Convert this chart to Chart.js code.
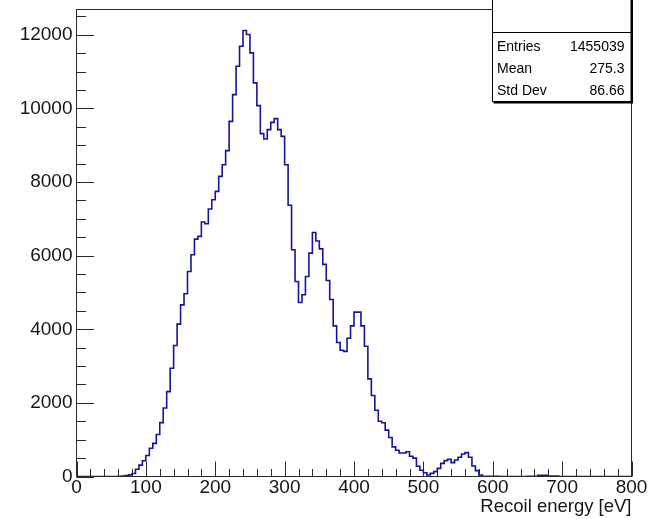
<!DOCTYPE html>
<html>
<head>
<meta charset="utf-8">
<title>Recoil energy</title>
<script src="https://cdn.jsdelivr.net/npm/chart.js@4.4.1/dist/chart.umd.min.js"></script>
<style>
  html, body { margin: 0; padding: 0; background: #fff; }
  canvas { display: block; }
</style>
</head>
<body>
<canvas id="histo" width="649" height="519"></canvas>
<script>
// histogram: 160 bins of 5 eV from 0 to 800 eV
const binWidth = 5;
const xMin = 0;
const xMax = 800;
const counts = [
    0, 0, 0, 0, 0, 0, 0, 0, 0, 0,                               // 0-50
    0, 0, 5, 10, 25, 45, 80, 195, 310, 430,                     // 50-100
    570, 766, 900, 1140, 1465, 1860, 2307, 2942, 3558, 4140,    // 100-150
    4665, 4964, 5571, 6025, 6451, 6524, 6914, 6868, 7267, 7521, // 150-200
    7747, 8155, 8473, 8854, 9651, 10377, 11147, 11691, 12118, 12009, // 200-250
    11510, 10695, 10078, 9316, 9171, 9425, 9624, 9724, 9425, 9243,   // 250-300
    8473, 7370, 6161, 5299, 4728, 4937, 5435, 6071, 6632, 6400, // 300-350
    6185, 5765, 5327, 4810, 4094, 3640, 3430, 3400, 3758, 4094, // 350-400
    4466, 4466, 4094, 3540, 2652, 2200, 1800, 1500, 1460, 1260, // 400-450
    1060, 805, 712, 640, 640, 672, 550, 500, 280, 170,          // 450-500
    100, 41, 86, 132, 222, 358, 431, 467, 376, 449,             // 500-550
    522, 612, 648, 522, 286, 159, 41, 8, 8, 8,                  // 550-600
    8, 8, 0, 0, 0, 0, 0, 0, 0, 0,                               // 600-650
    8, 8, 8, 30, 30, 30, 10, 10, 10, 0,                         // 650-700
    0, 0, 0, 0, 0, 0, 0, 0, 0, 0,                               // 700-750
    0, 0, 0, 0, 0, 0, 0, 0, 0, 0                                // 750-800
];
const xTicks = [0, 100, 200, 300, 400, 500, 600, 700, 800];
const yTicks = [0, 2000, 4000, 6000, 8000, 10000, 12000];
const yMax = 12690;
const statNames = ['Entries', 'Mean', 'Std Dev'];
const statValues = ['1455039', '275.3', '86.66'];
const xTitle = 'Recoil energy [eV]';

// bin edges -> step points
const points = counts.map((c, i) => ({ x: xMin + i * binWidth, y: c }));
points.push({ x: xMax, y: counts[counts.length - 1] });

const FONT = "'Liberation Sans', Arial, sans-serif";

// frame, inner ticks and the stats box, like ROOT draws them
const rootFrame = {
    id: 'rootFrame',
    afterDraw(chart) {
        const { ctx, chartArea: a, scales: { x, y } } = chart;
        ctx.save();
        ctx.strokeStyle = '#2a2a2a';
        ctx.lineWidth = 1;
        ctx.strokeRect(a.left, a.top, a.right - a.left, a.bottom - a.top);

        ctx.beginPath();
        for (let v = xMin; v <= xMax; v += 20) {
            const px = Math.round(x.getPixelForValue(v)) + 0.5;
            const len = v % 100 === 0 ? 15 : 7.5;
            ctx.moveTo(px, a.bottom);
            ctx.lineTo(px, a.bottom - len);
        }
        for (let v = 0; v <= yMax; v += 500) {
            const py = Math.round(y.getPixelForValue(v)) + 0.5;
            const len = v % 2000 === 0 ? 17.5 : 9.5;
            ctx.moveTo(a.left, py);
            ctx.lineTo(a.left + len, py);
        }
        ctx.stroke();

        // stats box
        const bx = 492.5, by = -1, bw = 138.5, bh = 102.5;
        ctx.fillStyle = '#000';
        ctx.fillRect(bx + 1, by + 1, bw + 1, bh + 1);
        ctx.fillStyle = '#fff';
        ctx.fillRect(bx, by, bw, bh);
        ctx.strokeStyle = '#000';
        ctx.strokeRect(bx, by, bw, bh);
        ctx.beginPath();
        ctx.moveTo(bx, 32.5);
        ctx.lineTo(bx + bw, 32.5);
        ctx.stroke();

        ctx.fillStyle = '#000';
        ctx.font = '14px ' + FONT;
        ctx.textBaseline = 'alphabetic';
        const rows = [50.5, 73, 94.5];
        statNames.forEach((name, i) => {
            ctx.textAlign = 'left';
            ctx.fillText(name, 497, rows[i]);
            ctx.textAlign = 'right';
            ctx.fillText(statValues[i], 624.5, rows[i]);
        });
        ctx.restore();
    }
};

const ctx = document.getElementById('histo').getContext('2d');
new Chart(ctx, {
    type: 'line',
    data: {
        datasets: [{
            data: points,
            stepped: 'before',
            borderColor: '#14149c',
            borderWidth: 1.6,
            pointRadius: 0,
            fill: false,
            tension: 0
        }]
    },
    options: {
        responsive: false,
        animation: false,
        devicePixelRatio: 1,
        layout: { padding: { top: 9.5, right: 17.5, left: 0, bottom: 0 } },
        plugins: {
            legend: { display: false },
            tooltip: { enabled: false }
        },
        scales: {
            x: {
                type: 'linear',
                min: xMin,
                max: xMax,
                border: { display: false },
                grid: { display: false, drawTicks: false },
                ticks: {
                    autoSkip: false,
                    maxRotation: 0,
                    padding: 0,
                    color: '#151515',
                    font: { family: FONT, size: 19 },
                    callback: v => String(v)
                },
                afterBuildTicks(scale) { scale.ticks = xTicks.map(v => ({ value: v })); },
                title: {
                    display: true,
                    text: xTitle,
                    align: 'end',
                    color: '#151515',
                    font: { family: FONT, size: 18.5 },
                    padding: { top: 0, bottom: 1 }
                },
                afterFit(scale) {
                    scale.height = 42.5;
                    scale.paddingLeft = 0;
                    scale.paddingRight = 0;
                }
            },
            y: {
                min: 0,
                max: yMax,
                border: { display: false },
                grid: { display: false, drawTicks: false },
                ticks: {
                    autoSkip: false,
                    padding: 4,
                    color: '#151515',
                    font: { family: FONT, size: 19 },
                    callback: v => String(v)
                },
                afterBuildTicks(scale) { scale.ticks = yTicks.map(v => ({ value: v })); },
                afterFit(scale) {
                    scale.width = 76.5;
                    scale.paddingTop = 0;
                    scale.paddingBottom = 0;
                }
            }
        }
    },
    plugins: [rootFrame]
});
</script>
</body>
</html>
